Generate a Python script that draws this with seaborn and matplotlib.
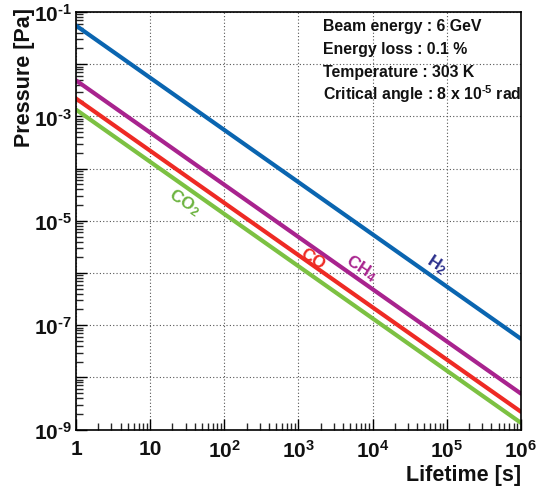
import numpy as np
import pandas as pd
import matplotlib
matplotlib.use("Agg")
import matplotlib.pyplot as plt
import matplotlib.ticker as mticker
import seaborn as sns

# Data
gases = ["H$_2$", "CH$_4$", "CO", "CO$_2$"]
lifetime = [1, 1e6]
p_h2 = [5.5e-2, 5.5e-8]
p_ch4 = [4.9e-3, 4.9e-9]
p_co = [2.2e-3, 2.2e-9]
p_co2 = [1.35e-3, 1.35e-9]
line_colors = ["#0a65b0", "#a8238e", "#ee2a24", "#7cc142"]
label_colors = ["#2b2f8c", "#a8238e", "#ee2a24", "#6cb33f"]
label_x = [7.4e4, 7.1e3, 1.55e3, 29]
label_y = [1.5e-6, 1.3e-6, 1.9e-6, 2.3e-5]
info_lines = ["Beam energy : 6 GeV", "Energy loss : 0.1 %",
              "Temperature : 303 K", r"Critical angle : 8 x 10$^{\text{-}5}$ rad"]

series = [p_h2, p_ch4, p_co, p_co2]
df = pd.DataFrame({
    "lifetime": lifetime * 4,
    "pressure": sum(series, []),
    "gas": sum([[g] * 2 for g in gases], []),
})

sns.set_theme(style="ticks")
plt.rcParams["font.family"] = ["Liberation Sans", "DejaVu Sans"]
plt.rcParams["mathtext.fontset"] = "custom"
plt.rcParams["mathtext.rm"] = "Liberation Sans:bold"
plt.rcParams["mathtext.it"] = "Liberation Sans:bold"
plt.rcParams["mathtext.bf"] = "Liberation Sans:bold"
plt.rcParams["mathtext.sf"] = "Liberation Sans:bold"

fig = plt.figure(figsize=(5.36, 4.89), dpi=100)
ax = fig.add_axes([0.1418, 0.1194, 0.830, 0.854])

sns.lineplot(data=df, x="lifetime", y="pressure", hue="gas",
             palette=dict(zip(gases, line_colors)), linewidth=3.0,
             legend=False, ax=ax)

ax.set_xscale("log")
ax.set_yscale("log")
ax.set_xlim(1, 1e6)
ax.set_ylim(1e-9, 1e-1)

ax.xaxis.set_major_locator(mticker.LogLocator(base=10, numticks=20))
ax.yaxis.set_major_locator(mticker.LogLocator(base=10, numticks=20))
ax.xaxis.set_minor_locator(mticker.LogLocator(base=10, subs=np.arange(2, 10), numticks=20))
ax.yaxis.set_minor_locator(mticker.LogLocator(base=10, subs=np.arange(2, 10), numticks=20))

def xfmt(v, pos):
    e = int(round(np.log10(v)))
    if e == 0:
        return "1"
    if e == 1:
        return "10"
    return r"10$^{%d}$" % e

def yfmt(v, pos):
    e = int(round(np.log10(v)))
    if e % 2 == 0:
        return ""
    return r"10$^{\text{-}%d}$" % (-e)

ax.xaxis.set_major_formatter(mticker.FuncFormatter(xfmt))
ax.yaxis.set_major_formatter(mticker.FuncFormatter(yfmt))
ax.xaxis.set_minor_formatter(mticker.NullFormatter())
ax.yaxis.set_minor_formatter(mticker.NullFormatter())

ax.tick_params(axis="both", which="major", direction="in", length=8, width=1.0,
               labelsize=15, colors="black", labelcolor="#111111")
ax.tick_params(axis="y", which="major", pad=3)
ax.tick_params(axis="x", which="major", pad=7)
ax.tick_params(axis="both", which="minor", direction="in", length=5, width=1.0)
for lab in ax.get_xticklabels() + ax.get_yticklabels():
    lab.set_fontweight("bold")

ax.grid(True, which="major", linestyle=(0, (1, 2)), color="#555555", linewidth=0.8)
for s in ax.spines.values():
    s.set_visible(True)
    s.set_color("black")
    s.set_linewidth(1.2)

ax.set_xlabel("Lifetime [s]", fontsize=15.5, fontweight="bold", loc="right", color="#111111")
ax.set_ylabel("Pressure [Pa]", fontsize=15.5, fontweight="bold", loc="top", color="#111111")
ax.yaxis.set_label_coords(-0.093, 1.012)
ax.xaxis.set_label_coords(1.0, -0.082)

for g, c, lx, ly in zip(gases, label_colors, label_x, label_y):
    ax.text(lx, ly, g, color=c, fontsize=12.5, fontweight="bold", rotation=-33,
            ha="center", va="center")

ys = [0.967, 0.913, 0.858, 0.806]
for t, yy in zip(info_lines, ys):
    ax.text(0.555, yy, t, transform=ax.transAxes, fontsize=11.4, fontweight="bold",
            ha="left", va="center", color="#111111")

fig.savefig("out.png", dpi=100)
